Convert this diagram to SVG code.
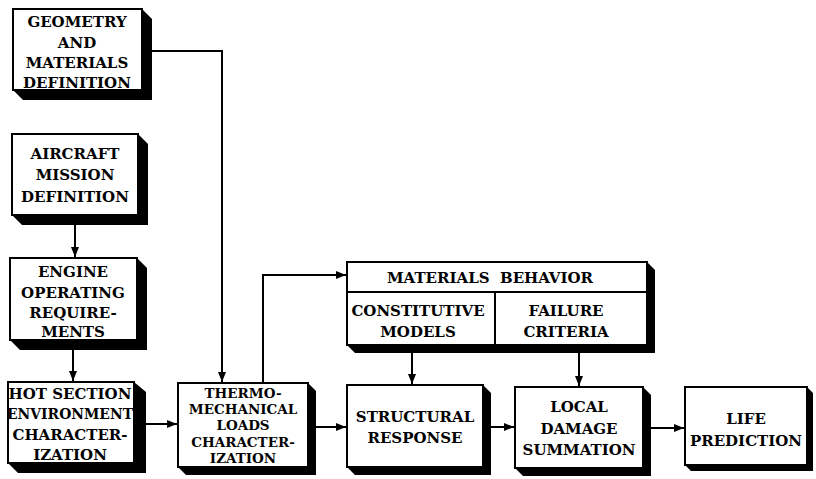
<svg xmlns="http://www.w3.org/2000/svg" width="816" height="479" viewBox="0 0 816 479">
<defs>
<style>
.box{fill:#fff;stroke:#000;stroke-width:2}
.sh{fill:#000}
.t{font-family:"DejaVu Serif","Liberation Serif",serif;font-weight:bold;font-size:15px;text-anchor:middle;fill:#000}
.s{font-size:13.5px}
.c{fill:none;stroke:#000;stroke-width:2}
</style>
<marker id="ah" markerUnits="userSpaceOnUse" markerWidth="10" markerHeight="8" refX="10" refY="4" orient="auto">
<path d="M0,0 L10,4 L0,8 Z" fill="#000"/>
</marker>
</defs>
<rect width="816" height="479" fill="#fff"/>

<g id="connectors">
<path class="c" d="M142,51 H222 V382" marker-end="url(#ah)"/>
<path class="c" d="M75,215 V257" marker-end="url(#ah)"/>
<path class="c" d="M73,340 V381" marker-end="url(#ah)"/>
<path class="c" d="M134,424 H177" marker-end="url(#ah)"/>
<path class="c" d="M263,383 V275 H346" marker-end="url(#ah)"/>
<path class="c" d="M308,427 H346" marker-end="url(#ah)"/>
<path class="c" d="M412,345 V384" marker-end="url(#ah)"/>
<path class="c" d="M579,345 V386" marker-end="url(#ah)"/>
<path class="c" d="M483,427 H514" marker-end="url(#ah)"/>
<path class="c" d="M643,428 H684" marker-end="url(#ah)"/>
</g>

<g id="geometry">
<path class="sh" d="M142,9 L152,19 L152,100 L23,100 L13,90 Z"/>
<rect class="box" x="13" y="9" width="129" height="81"/>
<text class="t" x="77" y="27">GEOMETRY</text>
<text class="t" x="77" y="48">AND</text>
<text class="t" x="77" y="68">MATERIALS</text>
<text class="t" x="77" y="88">DEFINITION</text>
</g>

<g id="aircraft">
<path class="sh" d="M138,134 L148,144 L148,225 L22,225 L12,215 Z"/>
<rect class="box" x="12" y="134" width="126" height="81"/>
<text class="t" x="75" y="159">AIRCRAFT</text>
<text class="t" x="75" y="180">MISSION</text>
<text class="t" x="75" y="202">DEFINITION</text>
</g>

<g id="engine">
<path class="sh" d="M137,258 L147,268 L147,350 L20,350 L10,340 Z"/>
<rect class="box" x="10" y="258" width="127" height="82"/>
<text class="t" x="73" y="277">ENGINE</text>
<text class="t" x="73" y="298">OPERATING</text>
<text class="t" x="73" y="318">REQUIRE-</text>
<text class="t" x="73" y="337">MENTS</text>
</g>

<g id="hotsection">
<path class="sh" d="M134,382 L146,392 L146,473 L18,473 L8,463 Z"/>
<rect class="box" x="8" y="382" width="126" height="81"/>
<text class="t" x="70" y="399">HOT SECTION</text>
<text class="t" x="70" y="419" textLength="126" lengthAdjust="spacingAndGlyphs">ENVIRONMENT</text>
<text class="t" x="70" y="440">CHARACTER-</text>
<text class="t" x="70" y="460">IZATION</text>
</g>

<g id="thermo">
<path class="sh" d="M308,383 L316,391 L316,475 L186,475 L178,467 Z"/>
<rect class="box" x="178" y="383" width="130" height="84"/>
<text class="t s" x="243" y="398">THERMO-</text>
<text class="t s" x="243" y="414">MECHANICAL</text>
<text class="t s" x="243" y="430">LOADS</text>
<text class="t s" x="243" y="447">CHARACTER-</text>
<text class="t s" x="243" y="463">IZATION</text>
</g>

<g id="materials">
<path class="sh" d="M647,262 L655,270 L655,353 L355,353 L347,345 Z"/>
<rect class="box" x="347" y="262" width="300" height="83"/>
<line class="c" x1="347" y1="292" x2="647" y2="292"/>
<line class="c" x1="495" y1="292" x2="495" y2="345"/>
<text class="t" x="490" y="283" xml:space="preserve">MATERIALS  BEHAVIOR</text>
<text class="t" x="418" y="316">CONSTITUTIVE</text>
<text class="t" x="418" y="337">MODELS</text>
<text class="t" x="566" y="316">FAILURE</text>
<text class="t" x="566" y="337">CRITERIA</text>
</g>

<g id="structural">
<path class="sh" d="M483,385 L491,393 L491,475 L355,475 L347,467 Z"/>
<rect class="box" x="347" y="385" width="136" height="82"/>
<text class="t" x="415" y="422">STRUCTURAL</text>
<text class="t" x="415" y="443">RESPONSE</text>
</g>

<g id="localdamage">
<path class="sh" d="M643,387 L651,395 L651,476 L523,476 L515,468 Z"/>
<rect class="box" x="515" y="387" width="128" height="81"/>
<text class="t" x="579" y="412">LOCAL</text>
<text class="t" x="579" y="434">DAMAGE</text>
<text class="t" x="579" y="455">SUMMATION</text>
</g>

<g id="life">
<path class="sh" d="M807,387 L813,393 L813,471 L691,471 L685,465 Z"/>
<rect class="box" x="685" y="387" width="122" height="78"/>
<text class="t" x="746" y="424">LIFE</text>
<text class="t" x="746" y="446">PREDICTION</text>
</g>
</svg>
